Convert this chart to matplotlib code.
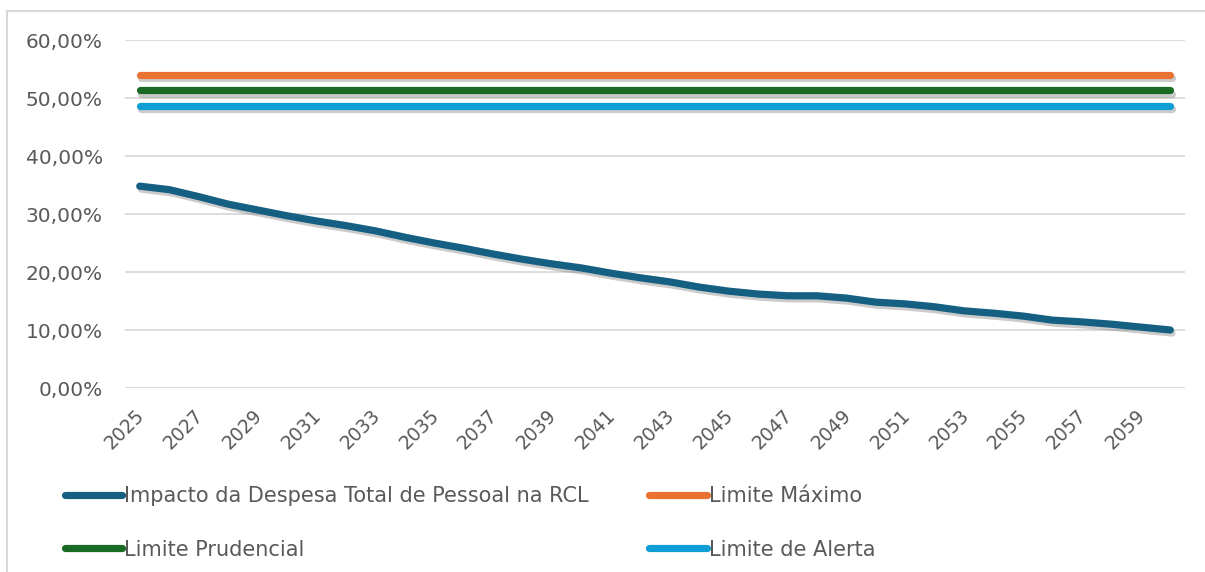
import matplotlib.pyplot as plt
import matplotlib.patheffects as pe
import matplotlib.transforms as mtransforms
from matplotlib.lines import Line2D
from matplotlib.ticker import FuncFormatter

# Data
years = list(range(2025, 2061))
impacto = [34.8, 34.2, 33.0, 31.7, 30.7, 29.7, 28.8, 28.0, 27.1, 26.0,
           25.0, 24.1, 23.1, 22.2, 21.4, 20.7, 19.8, 19.0, 18.3, 17.4,
           16.7, 16.2, 15.9, 15.9, 15.5, 14.8, 14.5, 14.0, 13.3, 12.9,
           12.4, 11.7, 11.4, 11.0, 10.5, 10.0]
limite_maximo = 54.0
limite_prudencial = 51.3
limite_alerta = 48.6

labels = ['Impacto da Despesa Total de Pessoal na RCL', 'Limite Máximo',
          'Limite Prudencial', 'Limite de Alerta']
colors = ['#156082', '#E97132', '#196B24', '#0F9ED5']

plt.rcParams['font.family'] = ['DejaVu Sans']
text_color = '#595959'

fig = plt.figure(figsize=(12.05, 5.72), dpi=100)
ax = fig.add_axes([125 / 1205, 1 - 388 / 572, 1060 / 1205, 348 / 572])

shadow = [pe.SimpleLineShadow(offset=(1.2, -2.2), shadow_color='#7f7f7f', alpha=0.4),
          pe.Normal()]
lw = 5.2

series = [impacto,
          [limite_maximo] * len(years),
          [limite_prudencial] * len(years),
          [limite_alerta] * len(years)]
for vals, lab, col in zip(series, labels, colors):
    ax.plot(years, vals, color=col, lw=lw, solid_capstyle='round',
            label=lab, path_effects=shadow, zorder=3)

ax.set_xlim(2024.5, 2060.5)
ax.set_ylim(0, 60)
ax.set_yticks(range(0, 61, 10))
ax.yaxis.set_major_formatter(FuncFormatter(lambda v, p: f'{v:.2f}%'.replace('.', ',')))
ax.set_xticks(years[::2])
ax.grid(axis='y', color='#d9d9d9', lw=1.3, zorder=0)
for s in ax.spines.values():
    s.set_visible(False)
ax.tick_params(axis='both', length=0, colors=text_color)
ax.tick_params(axis='y', pad=16, labelsize=14.5)
ax.tick_params(axis='x', pad=13, labelsize=13.5)

offset = mtransforms.ScaledTranslation(-5 / 100, 0, fig.dpi_scale_trans)
for lbl in ax.get_xticklabels():
    lbl.set_rotation(45)
    lbl.set_ha('right')
    lbl.set_va('top')
    lbl.set_rotation_mode('anchor')
    lbl.set_transform(lbl.get_transform() + offset)

# legend fills column-wise, so order entries to read row-wise like the original
order = [0, 2, 1, 3]
leg = fig.legend(handles=[Line2D([], [], color=colors[i], lw=lw, solid_capstyle='round') for i in order],
                 labels=[labels[i] for i in order], ncol=2, loc='center left',
                 bbox_to_anchor=(65 / 1205, 1 - 523 / 572), frameon=False,
                 borderpad=0, borderaxespad=0, handlelength=2.75, handletextpad=0.1,
                 columnspacing=2.9, labelspacing=1.6, fontsize=15)
for t in leg.get_texts():
    t.set_color(text_color)

# outer chart frame (top and left edges visible)
fig.add_artist(Line2D([7 / 1205, 7 / 1205], [0, 1 - 11 / 572], color='#d9d9d9', lw=1.5,
                      transform=fig.transFigure))
fig.add_artist(Line2D([7 / 1205, 1], [1 - 11 / 572, 1 - 11 / 572], color='#d9d9d9', lw=1.5,
                      transform=fig.transFigure))

fig.savefig('out.png', dpi=100)
